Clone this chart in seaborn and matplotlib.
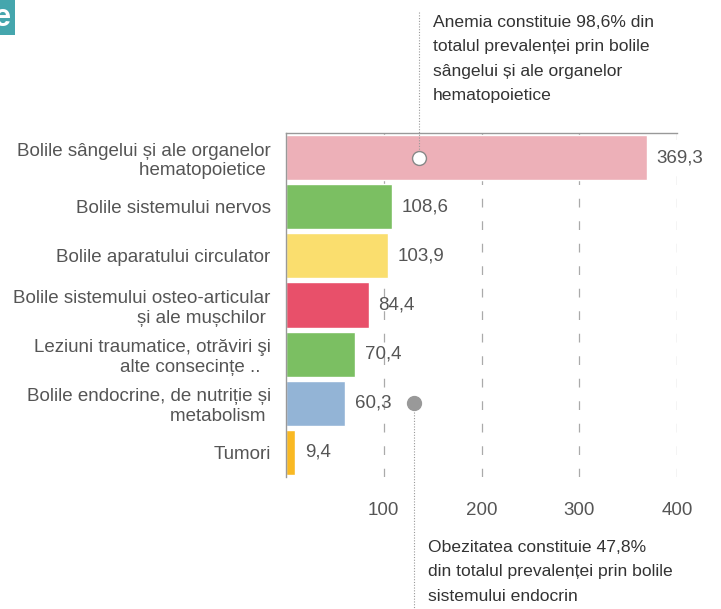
import numpy as np
import matplotlib
matplotlib.use("Agg")
import matplotlib.pyplot as plt
from matplotlib.patches import Rectangle
import seaborn as sns
import pandas as pd

# data
categories = [
    "Bolile sângelui și ale organelor\nhematopoietice ",
    "Bolile sistemului nervos",
    "Bolile aparatului circulator",
    "Bolile sistemului osteo-articular\nși ale mușchilor ",
    "Leziuni traumatice, otrăviri şi\nalte consecințe ..  ",
    "Bolile endocrine, de nutriție și\nmetabolism ",
    "Tumori",
]
values = [369.3, 108.6, 103.9, 84.4, 70.4, 60.3, 9.4]
value_labels = ["369,3", "108,6", "103,9", "84,4", "70,4", "60,3", "9,4"]
bar_colors = ["#edb0b8", "#7bbf62", "#fade6e", "#e8506a", "#7bbf62", "#93b4d6", "#f9b923"]
xticks = [100, 200, 300, 400]

note_top = "Anemia constituie 98,6% din\ntotalul prevalenței prin bolile\nsângelui și ale organelor\nhematopoietice"
note_bottom = "Obezitatea constituie 47,8%\ndin totalul prevalenței prin bolile\nsistemului endocrin"

sns.set_style("white")
plt.rcParams['font.family'] = ['Liberation Sans', 'DejaVu Sans']

df = pd.DataFrame({"cat": categories, "val": values})

fig = plt.figure(figsize=(7.21, 6.09), dpi=100)
W, H = 721, 609
ax = fig.add_axes([286 / W, 1 - 477 / H, (677 - 286) / W, (477 - 133) / H])

# dashed gridlines behind the bars
for xv in xticks:
    ax.axvline(xv, color="#aaaaaa", lw=0.9, linestyle=(0, (7, 11)), zorder=0)

sns.barplot(data=df, x="val", y="cat", hue="cat", palette=bar_colors,
            legend=False, width=0.92, saturation=1, ax=ax, zorder=2)

ax.set_xlim(0, 400)
ax.set_ylim(len(categories) - 0.5, -0.5)
ax.set_xlabel("")
ax.set_ylabel("")

for sp in ["right", "bottom"]:
    ax.spines[sp].set_visible(False)
for sp in ["left", "top"]:
    ax.spines[sp].set_color("#999999")
    ax.spines[sp].set_linewidth(1)

ax.set_xticks(xticks)
ax.set_xticklabels([str(t) for t in xticks])
ax.tick_params(axis="x", length=0, pad=18, labelsize=13.5, labelcolor="#555555")
ax.tick_params(axis="y", length=0, pad=11, labelsize=13.5, labelcolor="#555555")

# value labels
for i, (v, lab) in enumerate(zip(values, value_labels)):
    ax.text(v + 10, i, lab, va="center", ha="left", fontsize=13.5, color="#555555")

# annotation markers
ax.plot([136], [0], marker="o", ms=10, mfc="white", mec="#888888", mew=1, zorder=5, clip_on=False)
ax.plot([131], [5], marker="o", ms=10, mfc="#999999", mec="#999999", zorder=5, clip_on=False)

# dotted leader lines (figure coords)
fig.add_artist(plt.Line2D([419 / W, 419 / W], [1 - 12 / H, 1 - 151 / H],
                          color="#999999", lw=0.8, linestyle=(0, (1, 1.5))))
fig.add_artist(plt.Line2D([414 / W, 414 / W], [1 - 412 / H, 0],
                          color="#999999", lw=0.8, linestyle=(0, (1, 1.5))))

fig.text(433 / W, 1 - 15 / H, note_top, ha="left", va="top", fontsize=12.6,
         color="#333333", linespacing=1.78)
fig.text(428 / W, 1 - 540 / H, note_bottom, ha="left", va="top", fontsize=12.6,
         color="#333333", linespacing=1.78)

# cropped panel badge in the corner
fig.add_artist(Rectangle((0, 1 - 35 / H), 15 / W, 35 / H, transform=fig.transFigure,
                         facecolor="#45a6ad", edgecolor="none"))
fig.text(-6 / W, 1 - 18 / H, "e", ha="left", va="center", fontsize=22,
         fontweight="bold", color="white")

fig.savefig("out.png", dpi=100)
